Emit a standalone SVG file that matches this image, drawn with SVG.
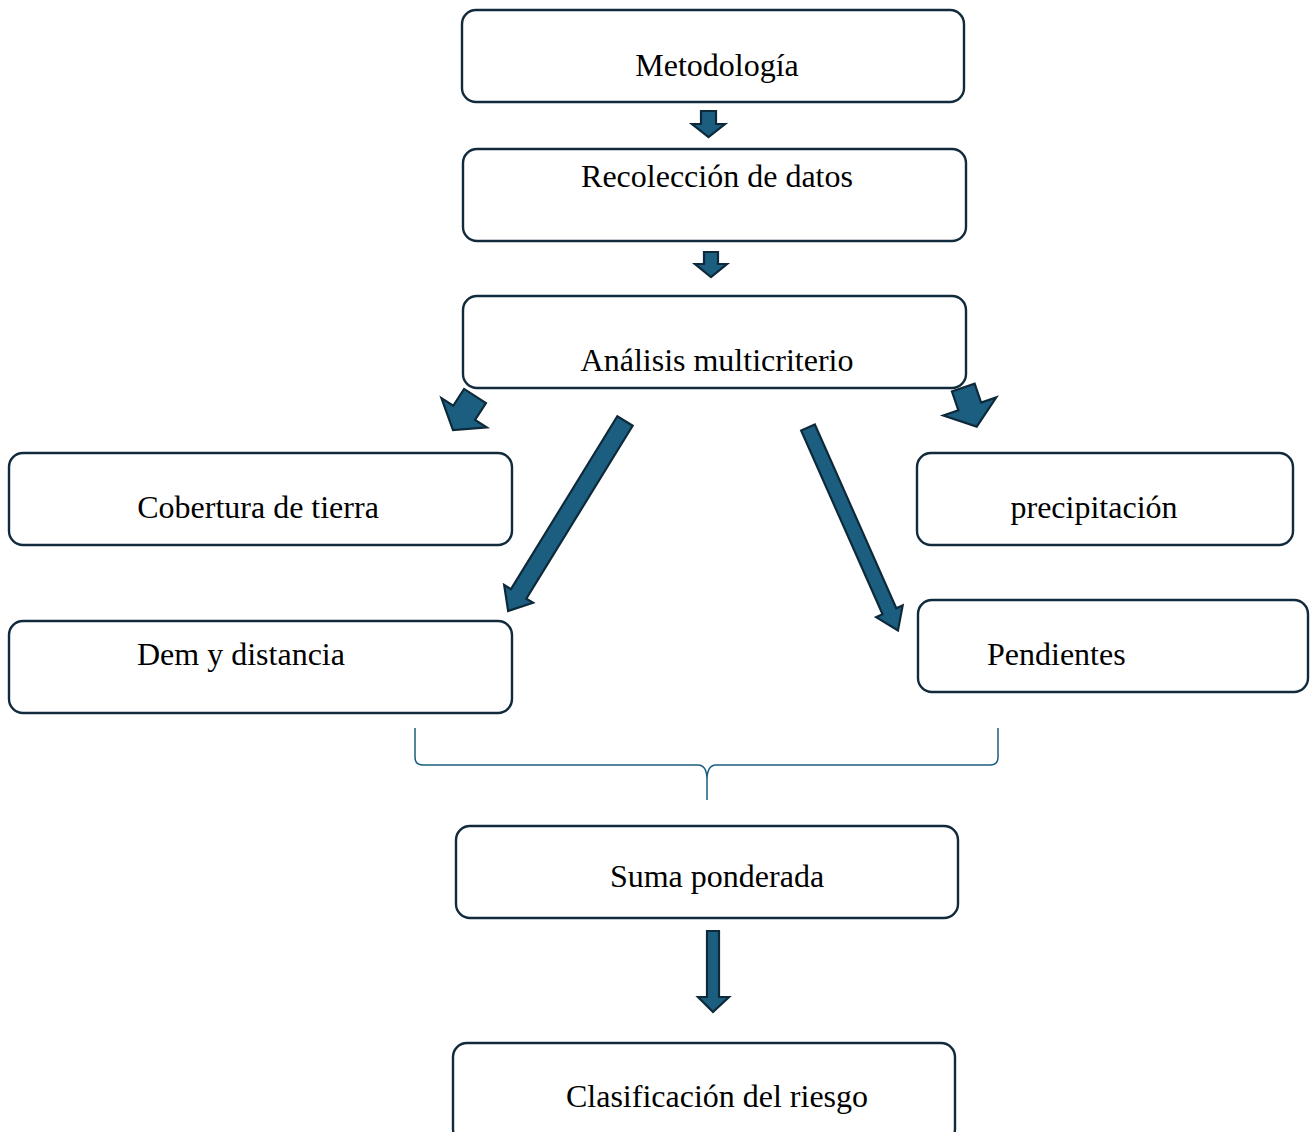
<svg xmlns="http://www.w3.org/2000/svg" width="1310" height="1132" viewBox="0 0 1310 1132">
<style>
.box{fill:#fff;stroke:#112b3c;stroke-width:2.4}
.t{font-family:"Liberation Serif","Times New Roman",serif;font-size:32px;fill:#000}
.ar{fill:#1b5e80;stroke:#0e2a3a;stroke-width:2.2;stroke-linejoin:miter}
.br{fill:none;stroke:#1b5e80;stroke-width:1.5}
</style>
<rect width="1310" height="1132" fill="#fff"/>
<g id="connectors">
<polygon class="ar" points="701,111 716,111 716,124 725,124 708.5,137 692,124 701,124"/>
<polygon class="ar" points="704,252 718,252 718,264 727,264 711,277 695,264 704,264"/>
<g transform="translate(475,396) rotate(122.9)"><polygon class="ar" points="0,-13 20,-13 20,-27 40.5,0 20,27 20,13 0,13"/></g>
<g transform="translate(963.3,387.5) rotate(71.1)"><polygon class="ar" points="0,-12 20,-12 20,-28 41.4,0 20,28 20,12 0,12"/></g>
<g transform="translate(625,421) rotate(121.6)"><polygon class="ar" points="0,-9 203,-9 203,-17 223,0 203,17 203,9 0,9"/></g>
<g transform="translate(808,427.5) rotate(66.1)"><polygon class="ar" points="0,-7.5 201,-7.5 201,-14.5 222,0 201,14.5 201,7.5 0,7.5"/></g>
<polygon class="ar" points="707,931 719,931 719,997 729,997 713,1012 698,997 707,997"/>
<path class="br" d="M415,728 L415,757 Q415,765 423,765 L698,765 Q707,765 707,780 L707,800 M707,780 Q707,765 716,765 L990,765 Q998,765 998,757 L998,728"/>
</g>
<g id="n1"><rect class="box" x="462" y="10" width="502" height="92" rx="14"/><text class="t" x="717" y="76" text-anchor="middle">Metodología</text></g>
<g id="n2"><rect class="box" x="463" y="149" width="503" height="92" rx="14"/><text class="t" x="717" y="187" text-anchor="middle">Recolección de datos</text></g>
<g id="n3"><rect class="box" x="463" y="296" width="503" height="92" rx="14"/><text class="t" x="717" y="371" text-anchor="middle">Análisis multicriterio</text></g>
<g id="n4"><rect class="box" x="9" y="453" width="503" height="92" rx="14"/><text class="t" x="258" y="518" text-anchor="middle">Cobertura de tierra</text></g>
<g id="n5"><rect class="box" x="917" y="453" width="376" height="92" rx="14"/><text class="t" x="1094" y="518" text-anchor="middle">precipitación</text></g>
<g id="n6"><rect class="box" x="9" y="621" width="503" height="92" rx="14"/><text class="t" x="137" y="665">Dem y distancia</text></g>
<g id="n7"><rect class="box" x="918" y="600" width="390" height="92" rx="14"/><text class="t" x="987" y="665">Pendientes</text></g>
<g id="n8"><rect class="box" x="456" y="826" width="502" height="92" rx="14"/><text class="t" x="717" y="887" text-anchor="middle">Suma ponderada</text></g>
<g id="n9"><rect class="box" x="453" y="1043" width="502" height="100" rx="14"/><text class="t" x="717" y="1107" text-anchor="middle">Clasificación del riesgo</text></g>
</svg>
